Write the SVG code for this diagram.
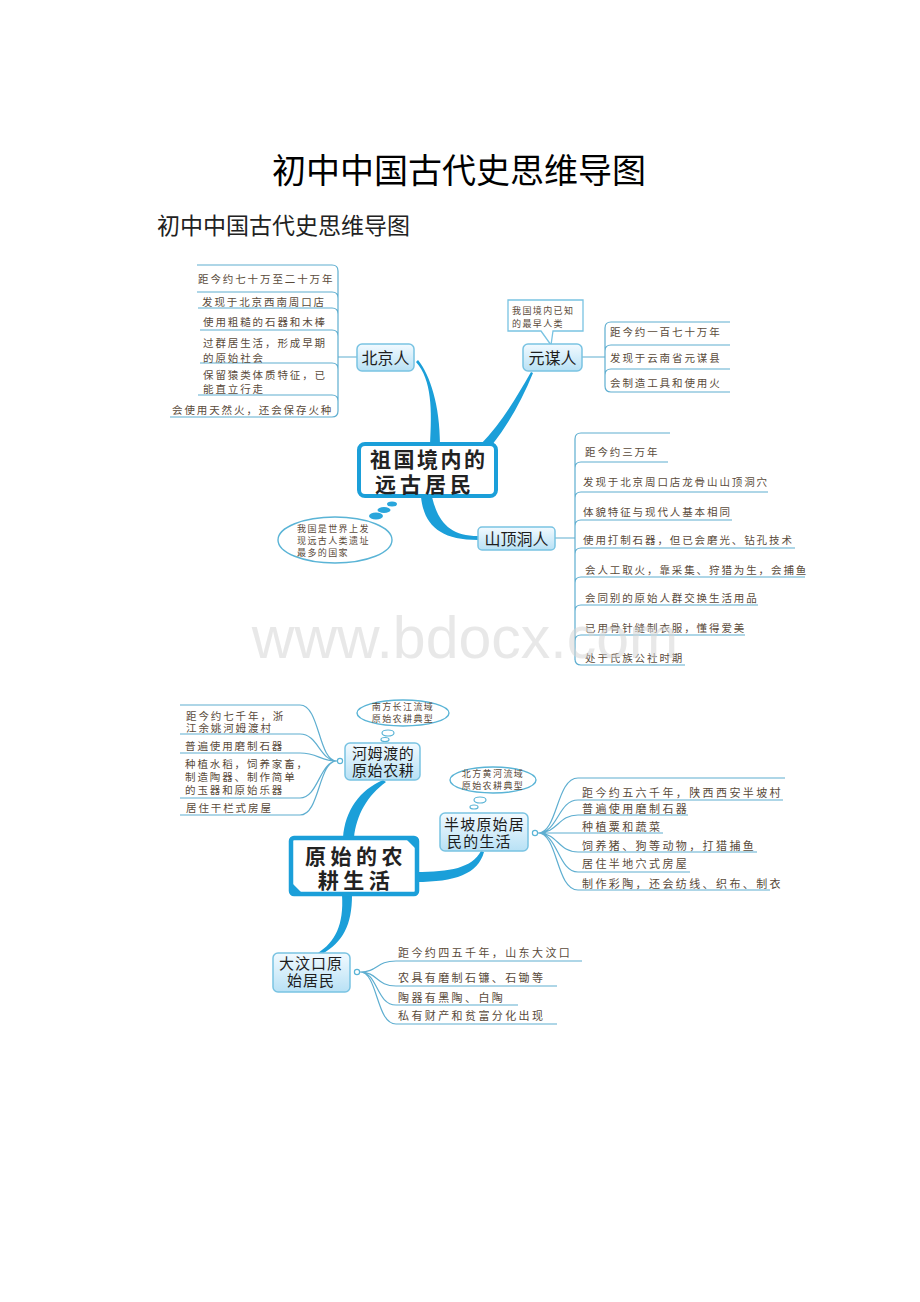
<svg xmlns="http://www.w3.org/2000/svg" width="920" height="1302" viewBox="0 0 920 1302">
<defs>
<linearGradient id="g" x1="0" y1="0" x2="0" y2="1">
<stop offset="0" stop-color="#f2faff"/>
<stop offset="1" stop-color="#b8e1f5"/>
</linearGradient>
<style>
.t{font-family:"Noto Sans CJK SC","Noto Sans CJK JP",sans-serif}
.lf{font-family:"Noto Sans CJK SC",sans-serif;font-size:10.5px;fill:#594a3a;letter-spacing:1.9px}
.lb{font-family:"Noto Sans CJK SC",sans-serif;font-size:11px;fill:#594a3a;letter-spacing:2.4px}
.cs{font-family:"Noto Sans CJK SC",sans-serif;font-size:9px;fill:#5a4a3a;letter-spacing:1.4px}
.ln{fill:none;stroke:#5eaed0;stroke-width:1.2}
.nd{fill:url(#g);stroke:#79c3e2;stroke-width:1.5}
.nt{font-family:"Noto Sans CJK SC",sans-serif;font-size:16px;fill:#1d1d1d}
.n2{font-family:"Noto Sans CJK SC",sans-serif;font-size:15px;fill:#1d1d1d}
.ct{font-family:"Noto Sans CJK SC",sans-serif;font-size:21px;font-weight:bold;fill:#222}
.br{fill:#1b9fd9}
.bb{fill:#fff;stroke:#5ab4d6;stroke-width:1.4}
.dot{fill:#2aa6dc}
.hl{fill:#fff;stroke:#5ab4d6;stroke-width:1.2}
</style>
</defs>
<rect width="920" height="1302" fill="#fff"/>
<text class="t" x="459" y="183" font-size="34" text-anchor="middle" fill="#000">初中中国古代史思维导图</text>
<text class="t" x="157" y="234" font-size="23" fill="#222">初中中国古代史思维导图</text>

<g id="connectors">
<path class="br" d="M416 362 C432 380 432 410 430 445 L440 445 C440 405 430 375 418 360 Z"/>
<path class="br" d="M531 372 C515 400 500 425 480 445 L492 445 C508 425 522 400 533 373 Z"/>
<path class="br" d="M421 497 C424 525 440 540 478 540 L478 536 C450 536 438 522 432 497 Z"/>
<path class="br" d="M343 838 C345 810 360 790 383 780 L386 782 C368 795 356 815 354 838 Z"/>
<path class="br" d="M416 872 C450 872 472 868 481 851 L484 852 C478 874 455 882 416 882 Z"/>
<path class="br" d="M342 895 C344 925 335 942 318 953 L322 954 C343 942 352 925 352 895 Z"/>
<path class="ln" d="M338 357 H357 M582 357 H605 M555 538 H575"/>
</g>

<g id="beijing-leaves">
<path class="ln" d="M338 271 V411 M197 265 H332 Q338 265 338 271 M197 292 H332 Q338 292 338 298 M198 308 H332 Q338 308 338 314 M200 330 H332 Q338 330 338 336 M200 363 H332 Q338 363 338 369 M198 395 H332 Q338 395 338 401 M170 417 H332 Q338 417 338 411"/>
<text class="lf" x="198" y="283">距今约七十万至二十万年</text>
<text class="lf" x="202" y="306">发现于北京西南周口店</text>
<text class="lf" x="203" y="326">使用粗糙的石器和木棒</text>
<text class="lf" x="203" y="347">过群居生活，形成早期</text>
<text class="lf" x="203" y="362">的原始社会</text>
<text class="lf" x="203" y="379">保留猿类体质特征，已</text>
<text class="lf" x="203" y="393">能直立行走</text>
<text class="lf" x="172" y="414">会使用天然火，还会保存火种</text>
</g>
<g id="beijing">
<rect class="nd" x="357" y="344" width="57" height="27" rx="5"/>
<text class="nt" x="385.5" y="364" text-anchor="middle">北京人</text>
</g>

<g id="yuanmou-note">
<path d="M508 300 H583 V331 H553 L551 345 L541 331 H508 Z" fill="#fff" stroke="#79c3e2" stroke-width="1.3"/>
<text class="cs" x="512" y="314">我国境内已知</text>
<text class="cs" x="512" y="327">的最早人类</text>
</g>
<g id="yuanmou">
<rect class="nd" x="523" y="344" width="59" height="27" rx="5"/>
<text class="nt" x="552.5" y="364" text-anchor="middle">元谋人</text>
</g>
<g id="yuanmou-leaves">
<path class="ln" d="M605 328 V386 M730 322 H611 Q605 322 605 328 M730 345 H611 Q605 345 605 351 M730 369 H611 Q605 369 605 375 M730 392 H611 Q605 392 605 386"/>
<text class="lf" x="610" y="336">距今约一百七十万年</text>
<text class="lf" x="610" y="362">发现于云南省元谋县</text>
<text class="lf" x="610" y="387">会制造工具和使用火</text>
</g>

<g id="center-top">
<rect x="359" y="444" width="137" height="52" rx="6" fill="#fff" stroke="#1b9fd9" stroke-width="4"/>
<text class="ct" x="370" y="467" letter-spacing="2.5">祖国境内的</text>
<text class="ct" x="375" y="492" letter-spacing="4">远古居民</text>
</g>

<g id="thought-top">
<ellipse class="dot" cx="392" cy="504" rx="5" ry="2.5"/>
<ellipse class="dot" cx="384" cy="510" rx="6.5" ry="3"/>
<ellipse class="dot" cx="376" cy="516" rx="7" ry="3.5"/>
<ellipse class="bb" cx="335" cy="540" rx="57" ry="23"/>
<text class="cs" x="297" y="532" font-size="10" letter-spacing="2.2">我国是世界上发</text>
<text class="cs" x="297" y="544" font-size="10" letter-spacing="2.2">现远古人类遗址</text>
<text class="cs" x="297" y="556" font-size="10" letter-spacing="2.2">最多的国家</text>
</g>

<g id="shanding">
<rect class="nd" x="478" y="527" width="77" height="23" rx="4"/>
<text class="nt" x="516.5" y="545" text-anchor="middle">山顶洞人</text>
</g>
<g id="shanding-leaves">
<path class="ln" d="M575 439 V660 M670 433 H581 Q575 433 575 439 M668 462 H581 Q575 462 575 468 M768 492 H581 Q575 492 575 498 M732 520 H581 Q575 520 575 526 M795 548 H581 Q575 548 575 554 M805 577 H581 Q575 577 575 583 M758 605 H581 Q575 605 575 611 M745 635 H581 Q575 635 575 641 M685 665 H581 Q575 665 575 659"/>
<text class="lf" x="585" y="456">距今约三万年</text>
<text class="lf" x="583" y="486">发现于北京周口店龙骨山山顶洞穴</text>
<text class="lf" x="583" y="516">体貌特征与现代人基本相同</text>
<text class="lf" x="583" y="544">使用打制石器，但已会磨光、钻孔技术</text>
<text class="lf" x="585" y="574">会人工取火，靠采集、狩猎为生，会捕鱼</text>
<text class="lf" x="585" y="602">会同别的原始人群交换生活用品</text>
<text class="lf" x="585" y="632">已用骨针缝制衣服，懂得爱美</text>
<text class="lf" x="585" y="662">处于氏族公社时期</text>
</g>

<g id="hemudu-note">
<ellipse class="bb" cx="403" cy="713" rx="46" ry="13"/>
<text class="cs" x="403" y="710" text-anchor="middle">南方长江流域</text>
<text class="cs" x="403" y="722" text-anchor="middle">原始农耕典型</text>
<ellipse class="hl" cx="388" cy="733" rx="6" ry="3"/>
<ellipse class="hl" cx="385" cy="739.5" rx="4" ry="2"/>
</g>
<g id="hemudu">
<rect class="nd" x="345" y="743" width="75" height="37" rx="5"/>
<text class="n2" x="352" y="759" letter-spacing="0.6">河姆渡的</text>
<text class="n2" x="352" y="776" letter-spacing="0.6">原始农耕</text>
</g>
<g id="hemudu-leaves">
<circle class="hl" cx="340" cy="761" r="2.6"/>
<path class="ln" d="M180 705 H300 C320 705 318 761 337 761 M180 734 H300 C318 734 320 761 337 761 M180 753 H300 C318 753 320 761 337 761 M180 798 H300 C318 798 320 761 337 761 M180 815 H300 C320 815 318 761 337 761"/>
<text class="lf" x="186" y="720">距今约七千年，浙</text>
<text class="lf" x="186" y="732">江余姚河姆渡村</text>
<text class="lf" x="185" y="750">普遍使用磨制石器</text>
<text class="lf" x="185" y="768">种植水稻，饲养家畜，</text>
<text class="lf" x="185" y="781">制造陶器、制作简单</text>
<text class="lf" x="185" y="794">的玉器和原始乐器</text>
<text class="lf" x="186" y="812">居住干栏式房屋</text>
</g>

<g id="center-bottom">
<rect x="291" y="838" width="126" height="56" rx="3" fill="#fff" stroke="#1b9fd9" stroke-width="4.5"/>
<path class="br" d="M405 838 H417 V850 Z M291 882 V894 H303 Z"/>
<text class="ct" x="356" y="864" text-anchor="middle" font-size="20" letter-spacing="4.5">原始的农</text>
<text class="ct" x="356" y="888" text-anchor="middle" font-size="20" letter-spacing="4.5">耕生活</text>
</g>

<g id="banpo-note">
<ellipse class="bb" cx="493" cy="780" rx="43" ry="13"/>
<text class="cs" x="493" y="777" text-anchor="middle">北方黄河流域</text>
<text class="cs" x="493" y="789" text-anchor="middle">原始农耕典型</text>
<ellipse class="hl" cx="480" cy="800" rx="6" ry="3"/>
<ellipse class="hl" cx="474" cy="807" rx="4" ry="2"/>
</g>
<g id="banpo">
<rect class="nd" x="440" y="813" width="88" height="38" rx="5"/>
<text class="n2" x="444" y="830" letter-spacing="1.2">半坡原始居</text>
<text class="n2" x="447" y="847" letter-spacing="1.2">民的生活</text>
</g>
<g id="banpo-leaves">
<circle class="hl" cx="535" cy="833" r="2.6"/>
<path class="ln" d="M538 833 C558 833 556 778 578 778 H785 M538 833 C558 833 558 800 578 800 H783 M538 833 C558 833 558 815 578 815 H688 M538 833 C558 833 558 833 578 833 H663 M538 833 C558 833 558 852 578 852 H757 M538 833 C558 833 558 872 578 872 H690 M538 833 C558 833 556 890 578 890 H770"/>
<text class="lb" x="582" y="797">距今约五六千年，陕西西安半坡村</text>
<text class="lb" x="582" y="813">普遍使用磨制石器</text>
<text class="lb" x="582" y="831">种植粟和蔬菜</text>
<text class="lb" x="582" y="850">饲养猪、狗等动物，打猎捕鱼</text>
<text class="lb" x="582" y="868">居住半地穴式房屋</text>
<text class="lb" x="582" y="888">制作彩陶，还会纺线、织布、制衣</text>
</g>

<g id="dawenkou">
<rect class="nd" x="273" y="953" width="77" height="39" rx="5"/>
<text class="n2" x="279" y="969" letter-spacing="1">大汶口原</text>
<text class="n2" x="287" y="986" letter-spacing="1">始居民</text>
</g>
<g id="dawenkou-leaves">
<circle class="hl" cx="357" cy="972" r="2.6"/>
<path class="ln" d="M360 972 C378 972 376 961 396 961 H582 M360 972 C378 972 376 986 396 986 H557 M360 972 C378 972 376 1005 396 1005 H518 M360 972 C378 972 376 1024 396 1024 H557"/>
<text class="lb" x="398" y="957">距今约四五千年，山东大汶口</text>
<text class="lb" x="398" y="982">农具有磨制石镰、石锄等</text>
<text class="lb" x="398" y="1002">陶器有黑陶、白陶</text>
<text class="lb" x="398" y="1020">私有财产和贫富分化出现</text>
</g>

<text x="465" y="658" text-anchor="middle" font-family="Liberation Sans, Arial, sans-serif" font-size="59" fill="#d6d6d6" fill-opacity="0.55">www.bdocx.com</text>
</svg>
